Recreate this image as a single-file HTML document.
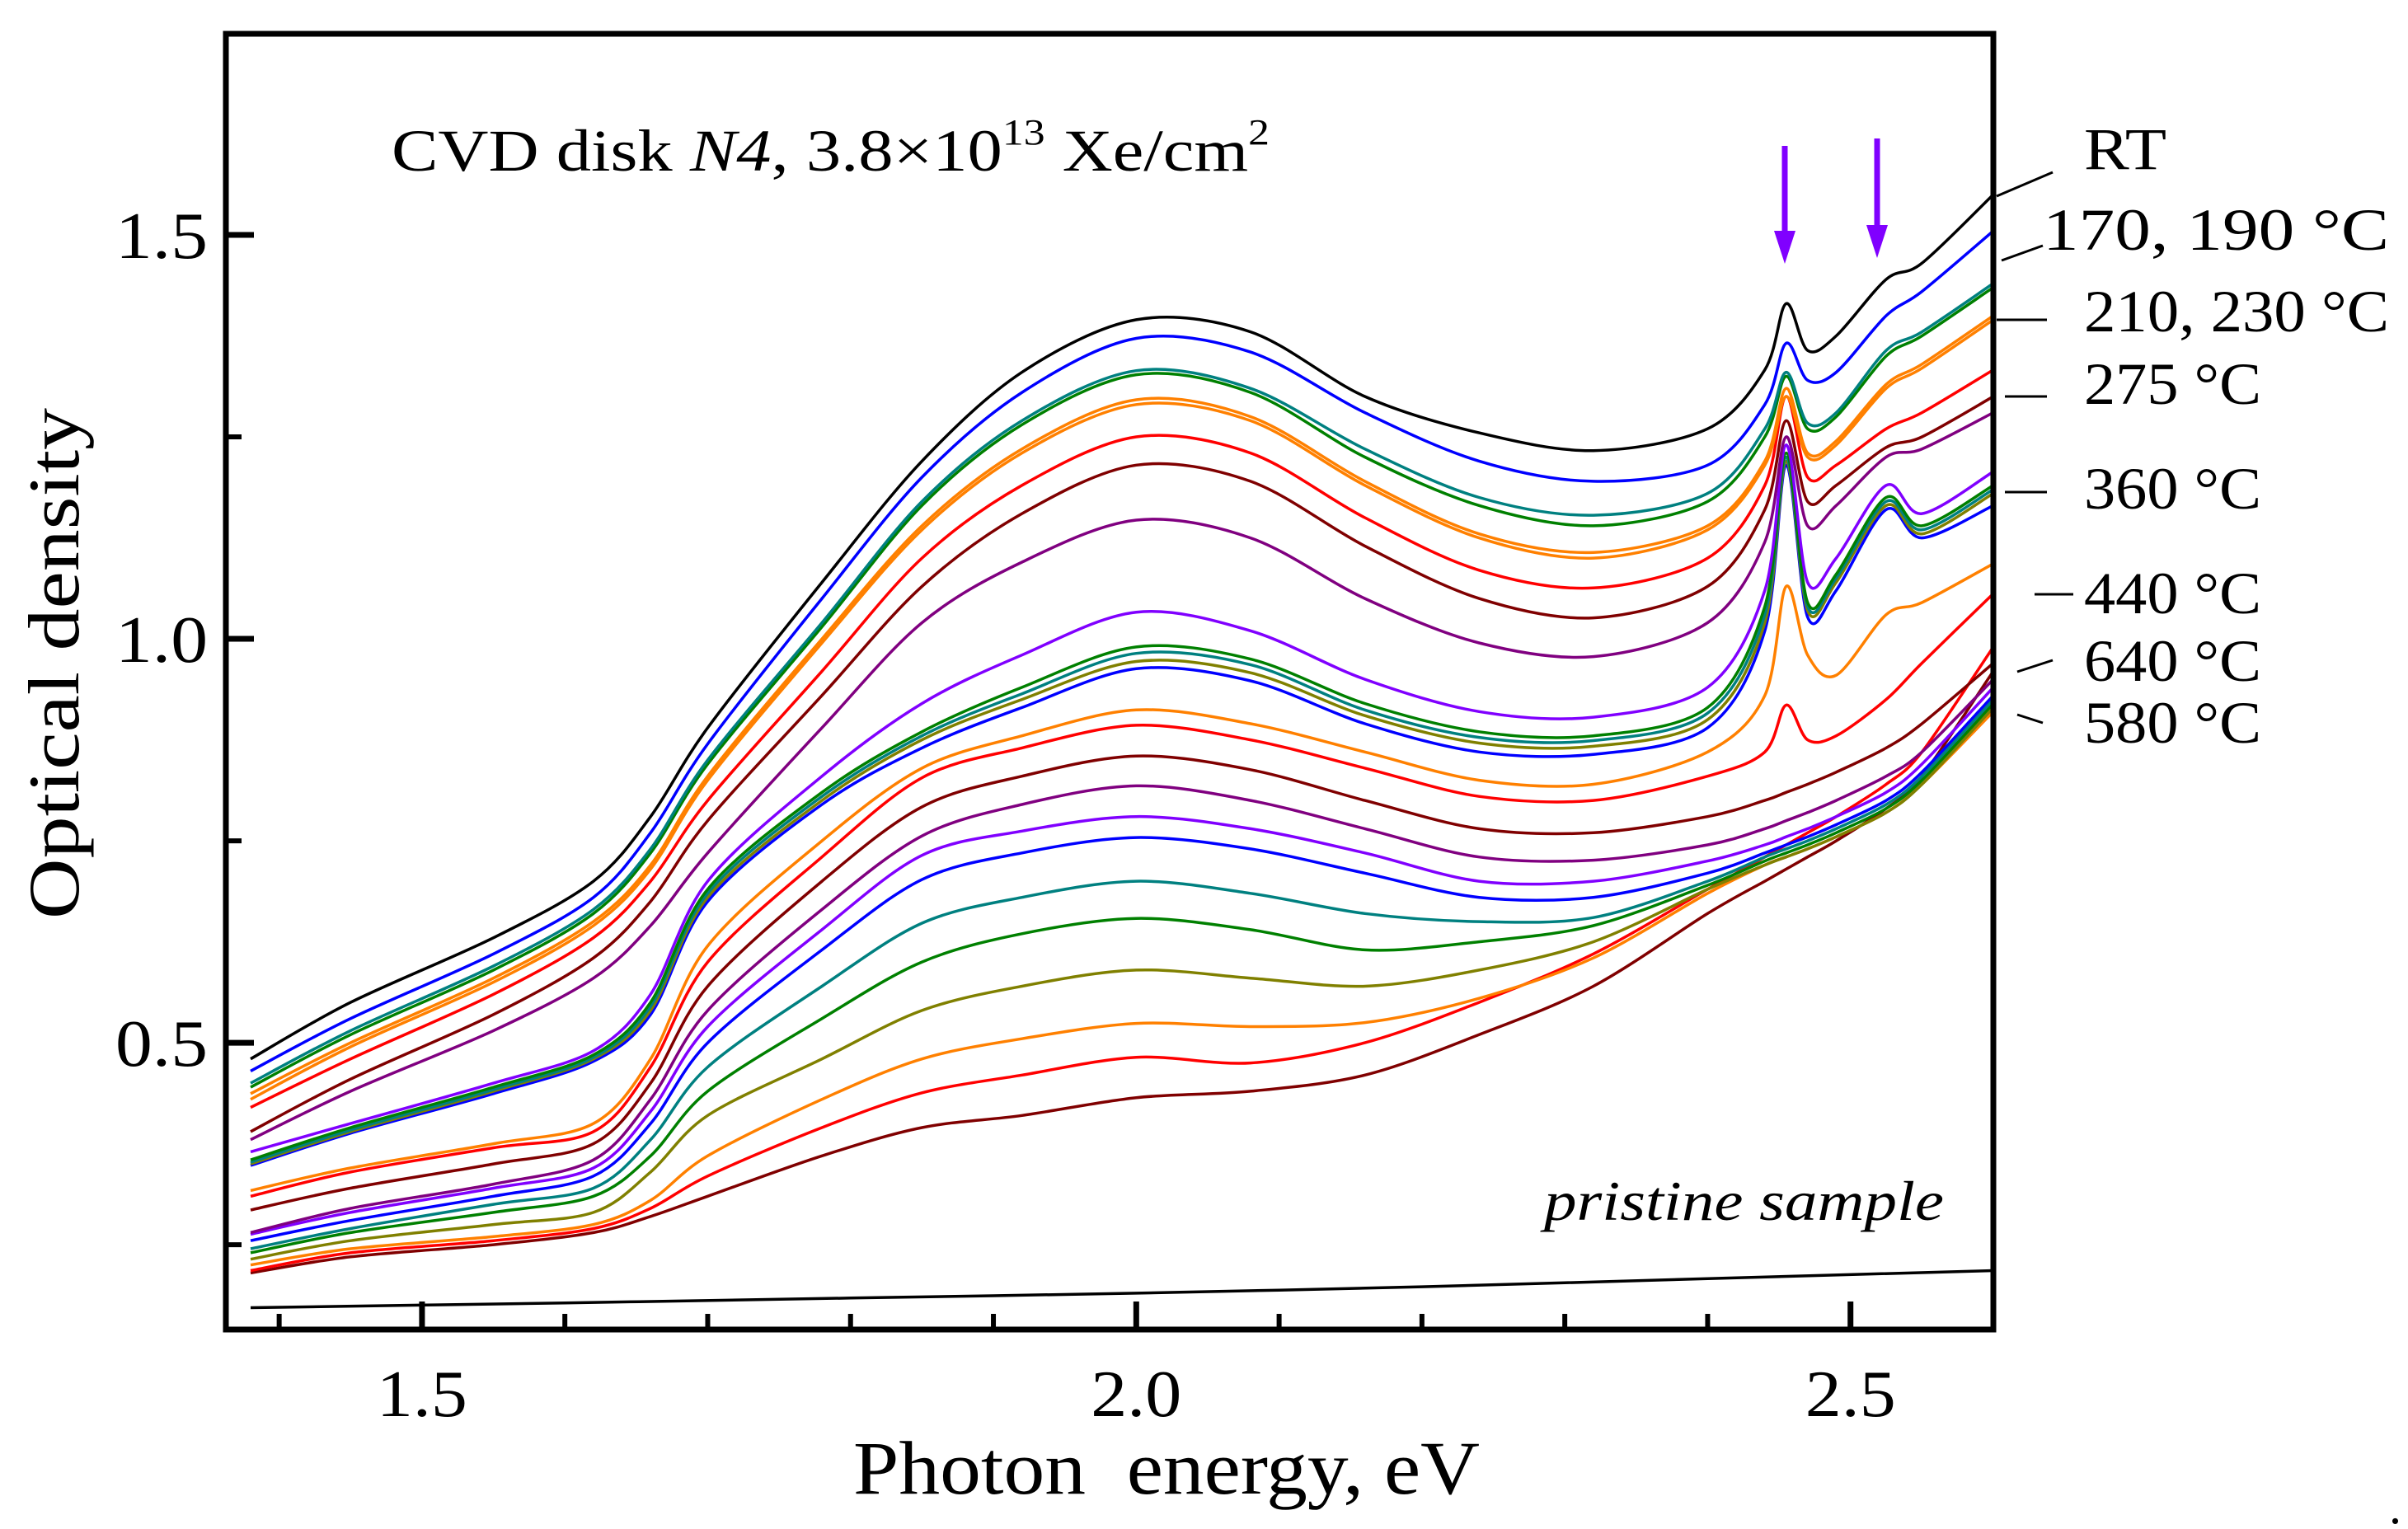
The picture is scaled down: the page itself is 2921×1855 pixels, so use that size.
<!DOCTYPE html>
<html><head><meta charset="utf-8"><style>
html,body{margin:0;padding:0;background:#fff;}
svg{display:block;}
text{font-family:"Liberation Serif",serif;fill:#000;}
</style></head><body>
<svg id="chart" width="2921" height="1855" viewBox="0 0 2921 1855" xmlns="http://www.w3.org/2000/svg">
<g id="curves"></g>
<g id="axes"></g>
<g id="labels">
<text x="475" y="207" font-size="72" textLength="1065" lengthAdjust="spacingAndGlyphs">CVD disk <tspan font-style="italic">N4</tspan>, 3.8×10<tspan font-size="44" dy="-32">13</tspan><tspan dy="32"> Xe/cm</tspan><tspan font-size="44" dy="-32">2</tspan></text>
<text x="1873" y="1480" font-size="68" font-style="italic" textLength="485" lengthAdjust="spacingAndGlyphs">pristine sample</text>
<text transform="translate(95,805) rotate(-90)" text-anchor="middle" font-size="88" textLength="620" lengthAdjust="spacingAndGlyphs">Optical density</text>
<text x="1415" y="1812" text-anchor="middle" font-size="92" textLength="760" lengthAdjust="spacingAndGlyphs" xml:space="preserve">Photon  energy, eV</text>
<text x="2898" y="1848" font-size="60">.</text>
</g>
</svg>
<script>
const X = [1.38,1.45,1.55,1.62,1.66,1.70,1.78,1.85,1.92,2.00,2.08,2.16,2.24,2.32,2.40,2.44,2.455,2.47,2.49,2.525,2.55,2.60];
const seriesColors = ["#000000","#0000ff","#008080","#008000","#ff8000","#ff8000","#ff0000","#800000","#800080",
 "#8000ff","#008000","#008080","#808000","#0000ff",
 "#ff8000","#ff0000","#800000","#800080","#8000ff","#0000ff","#008080","#008000","#808000","#ff8000","#ff0000","#800000"];
const sRT = [0.48,0.55,0.63,0.70,0.78,0.89,1.07,1.22,1.33,1.395,1.38,1.30,1.255,1.233,1.26,1.333,1.415,1.357,1.375,1.445,1.465,1.55];
const sA1 = [0.465,0.53,0.61,0.68,0.76,0.87,1.05,1.20,1.305,1.372,1.355,1.28,1.22,1.195,1.215,1.29,1.366,1.32,1.33,1.40,1.43,1.505];
const sA2 = [0.45,0.515,0.595,0.665,0.74,0.85,1.02,1.17,1.27,1.332,1.31,1.235,1.175,1.153,1.18,1.26,1.33,1.267,1.28,1.357,1.38,1.44];
const sA3 = [0.445,0.51,0.59,0.66,0.735,0.845,1.015,1.165,1.265,1.327,1.305,1.225,1.165,1.14,1.17,1.25,1.325,1.26,1.275,1.35,1.375,1.435];
const sA4 = [0.437,0.50,0.58,0.65,0.72,0.83,1.0,1.14,1.235,1.296,1.275,1.195,1.13,1.107,1.14,1.22,1.31,1.23,1.245,1.315,1.34,1.40];
const sA5 = [0.43,0.495,0.575,0.645,0.715,0.825,0.995,1.135,1.23,1.29,1.27,1.19,1.125,1.10,1.135,1.215,1.30,1.225,1.24,1.31,1.335,1.395];
const sA6 = [0.42,0.48,0.56,0.63,0.70,0.80,0.96,1.10,1.19,1.25,1.23,1.15,1.085,1.063,1.10,1.19,1.30,1.20,1.215,1.26,1.28,1.333];
const sA7 = [0.39,0.455,0.535,0.605,0.675,0.775,0.93,1.065,1.155,1.215,1.195,1.115,1.05,1.026,1.065,1.16,1.27,1.17,1.19,1.237,1.25,1.30];
const sA8 = [0.38,0.44,0.515,0.58,0.645,0.735,0.89,1.02,1.095,1.147,1.125,1.05,0.995,0.978,1.02,1.12,1.25,1.14,1.165,1.225,1.235,1.28];
const sB1 = [0.365,0.40,0.45,0.49,0.56,0.70,0.83,0.92,0.98,1.033,1.01,0.95,0.91,0.903,0.94,1.06,1.24,1.07,1.10,1.19,1.155,1.207];
const sB2 = [0.355,0.395,0.445,0.485,0.55,0.69,0.81,0.885,0.94,0.99,0.975,0.92,0.885,0.88,0.915,1.04,1.23,1.045,1.08,1.175,1.14,1.19];
const sB3 = [0.352,0.392,0.442,0.482,0.545,0.685,0.805,0.88,0.932,0.982,0.968,0.912,0.878,0.874,0.908,1.03,1.225,1.04,1.075,1.17,1.135,1.185];
const sB4 = [0.35,0.39,0.44,0.48,0.54,0.68,0.80,0.875,0.925,0.972,0.958,0.905,0.871,0.867,0.90,1.02,1.22,1.035,1.07,1.165,1.13,1.18];
const sB5 = [0.348,0.388,0.437,0.477,0.535,0.675,0.795,0.865,0.915,0.963,0.948,0.895,0.86,0.857,0.89,1.01,1.215,1.027,1.06,1.16,1.125,1.165];
const sC1 = [0.317,0.345,0.375,0.40,0.48,0.62,0.75,0.84,0.88,0.912,0.895,0.86,0.825,0.82,0.86,0.93,1.065,0.98,0.955,1.03,1.045,1.093];
const sC2 = [0.31,0.34,0.37,0.39,0.47,0.60,0.73,0.828,0.865,0.893,0.875,0.84,0.805,0.80,0.83,0.86,0.918,0.875,0.88,0.925,0.97,1.056];
const sC3 = [0.293,0.32,0.35,0.375,0.45,0.57,0.70,0.792,0.83,0.855,0.838,0.80,0.765,0.76,0.78,0.80,0.81,0.82,0.835,0.865,0.895,0.97];
const sC4 = [0.265,0.295,0.325,0.355,0.43,0.54,0.665,0.756,0.795,0.818,0.80,0.765,0.73,0.726,0.745,0.765,0.775,0.785,0.80,0.83,0.86,0.95];
const sC5 = [0.263,0.29,0.32,0.345,0.415,0.52,0.64,0.732,0.762,0.78,0.765,0.735,0.70,0.70,0.725,0.745,0.755,0.765,0.78,0.81,0.845,0.94];
const sC6 = [0.255,0.28,0.31,0.335,0.40,0.50,0.615,0.702,0.735,0.754,0.74,0.71,0.68,0.68,0.71,0.735,0.745,0.755,0.77,0.80,0.835,0.93];
const sC7 = [0.245,0.27,0.30,0.32,0.38,0.47,0.57,0.648,0.68,0.70,0.685,0.66,0.65,0.655,0.70,0.73,0.74,0.75,0.765,0.795,0.83,0.925];
const sC8 = [0.24,0.265,0.29,0.31,0.36,0.44,0.53,0.60,0.635,0.654,0.64,0.615,0.625,0.645,0.695,0.725,0.735,0.745,0.76,0.79,0.825,0.92];
const sC9 = [0.232,0.255,0.275,0.29,0.34,0.41,0.48,0.54,0.57,0.59,0.58,0.57,0.59,0.625,0.69,0.72,0.73,0.74,0.755,0.785,0.82,0.915];
const sC10 = [0.225,0.245,0.26,0.275,0.305,0.36,0.43,0.48,0.505,0.524,0.52,0.525,0.555,0.605,0.685,0.72,0.73,0.74,0.755,0.785,0.82,0.91];
const sC11 = [0.218,0.24,0.255,0.27,0.295,0.335,0.395,0.438,0.46,0.482,0.475,0.50,0.55,0.61,0.69,0.73,0.745,0.76,0.78,0.82,0.86,0.99];
const sC12 = [0.215,0.235,0.25,0.265,0.285,0.31,0.36,0.395,0.41,0.432,0.44,0.46,0.51,0.57,0.66,0.70,0.715,0.73,0.75,0.79,0.83,0.96];
const series = [sRT,sA1,sA2,sA3,sA4,sA5,sA6,sA7,sA8,sB1,sB2,sB3,sB4,sB5,sC1,sC2,sC3,sC4,sC5,sC6,sC7,sC8,sC9,sC10,sC11,sC12];
const pristineX = [1.38,1.60,1.80,2.00,2.20,2.40,2.60];
const pristineY = [0.172,0.178,0.184,0.190,0.198,0.208,0.218];
const xTicksMajor = [1.5,2.0,2.5];
const xTickLabels = ["1.5","2.0","2.5"];
const xTicksMinor = [1.4,1.6,1.7,1.8,1.9,2.1,2.2,2.3,2.4,2.6];
const yTicksMajor = [0.5,1.0,1.5];
const yTickLabels = ["0.5","1.0","1.5"];
const yTicksMinor = [0.25,0.75,1.25];
const curveLabels = ["RT","170, 190 °C","210, 230 °C","275 °C","360 °C","440 °C","640 °C","580 °C"];

const L=274,R=2418,T=41,B=1613;
const X0=1.3627,X1=2.6,Y0=0.145,Y1=1.749;
function sx(v){return L+(v-X0)/(X1-X0)*(R-L);}
function sy(v){return B-(v-Y0)/(Y1-Y0)*(B-T);}
const NS="http://www.w3.org/2000/svg";
function mk(tag,attrs,parent){const e=document.createElementNS(NS,tag);for(const k in attrs)e.setAttribute(k,attrs[k]);parent.appendChild(e);return e;}
function smooth(xs,ys){
  const p=xs.map((x,i)=>[sx(x),sy(ys[i])]);
  let d="M"+p[0][0].toFixed(1)+","+p[0][1].toFixed(1);
  for(let i=0;i<p.length-1;i++){
    const p0=p[Math.max(0,i-1)],p1=p[i],p2=p[i+1],p3=p[Math.min(p.length-1,i+2)];
    const t=0.16;
    const c1=[p1[0]+(p2[0]-p0[0])*t,p1[1]+(p2[1]-p0[1])*t];
    const c2=[p2[0]-(p3[0]-p1[0])*t,p2[1]-(p3[1]-p1[1])*t];
    d+=" C"+c1[0].toFixed(1)+","+c1[1].toFixed(1)+" "+c2[0].toFixed(1)+","+c2[1].toFixed(1)+" "+p2[0].toFixed(1)+","+p2[1].toFixed(1);
  }
  return d;
}
const cg=document.getElementById("curves");
for(let i=series.length-1;i>=0;i--){
  const el=mk("path",{d:smooth(X,series[i]),fill:"none",stroke:seriesColors[i],"stroke-width":"3.5"},cg);
  
  
}
const pr=mk("path",{d:smooth(pristineX,pristineY),fill:"none",stroke:"#000","stroke-width":"3.5"},cg);



const ag=document.getElementById("axes");
const fr=mk("rect",{x:L,y:T,width:R-L,height:B-T,fill:"none",stroke:"#000","stroke-width":"7"},ag);


xTicksMajor.forEach((v,i)=>{
  const t=mk("line",{x1:sx(v),x2:sx(v),y1:B,y2:B-34,stroke:"#000","stroke-width":"7"},ag);
  
  
  const lb=mk("text",{x:sx(v),y:1718,"text-anchor":"middle","font-size":"80",textLength:"110",lengthAdjust:"spacingAndGlyphs"},ag);
  lb.textContent=xTickLabels[i];
  
  
});
xTicksMinor.forEach(v=>{
  const t=mk("line",{x1:sx(v),x2:sx(v),y1:B,y2:B-19,stroke:"#000","stroke-width":"6"},ag);
  
  
});
yTicksMajor.forEach((v,i)=>{
  const t=mk("line",{x1:L,x2:L+34,y1:sy(v),y2:sy(v),stroke:"#000","stroke-width":"7"},ag);
  
  
  const lb=mk("text",{x:252,y:sy(v)+28,"text-anchor":"end","font-size":"80",textLength:"112",lengthAdjust:"spacingAndGlyphs"},ag);
  lb.textContent=yTickLabels[i];
  
  
});
yTicksMinor.forEach(v=>{
  const t=mk("line",{x1:L,x2:L+19,y1:sy(v),y2:sy(v),stroke:"#000","stroke-width":"6"},ag);
  
  
});

const lg=document.getElementById("labels");
const labPos=[[2528,205,100],[2478,303,420],[2528,402,370],[2528,490,215],[2528,617,215],[2528,744,215],[2528,826,215],[2528,901,215]];
const leaders=[[2422,238,2490,209],[2428,316,2478,298],[2422,388,2483,388],[2432,481,2483,481],[2432,597,2483,597],[2468,721,2515,721],[2447,815,2490,801],[2447,867,2478,877]];
curveLabels.forEach((s,i)=>{
  const t=mk("text",{x:labPos[i][0],y:labPos[i][1],"font-size":"72",textLength:labPos[i][2],lengthAdjust:"spacingAndGlyphs"},lg);
  t.textContent=s;
  
  
  const ln=mk("line",{x1:leaders[i][0],y1:leaders[i][1],x2:leaders[i][2],y2:leaders[i][3],stroke:"#000","stroke-width":"3"},lg);
  
  
});
[[2165,177,320],[2277,168,313]].forEach(a=>{
  const ln=mk("line",{x1:a[0],y1:a[1],x2:a[0],y2:a[2]-25,stroke:"#8000ff","stroke-width":"7"},lg);
  
  
  const hd=mk("polygon",{points:(a[0]-13)+","+(a[2]-40)+" "+(a[0]+13)+","+(a[2]-40)+" "+a[0]+","+a[2],fill:"#8000ff"},lg);
  
  
});
</script>
</body></html>
